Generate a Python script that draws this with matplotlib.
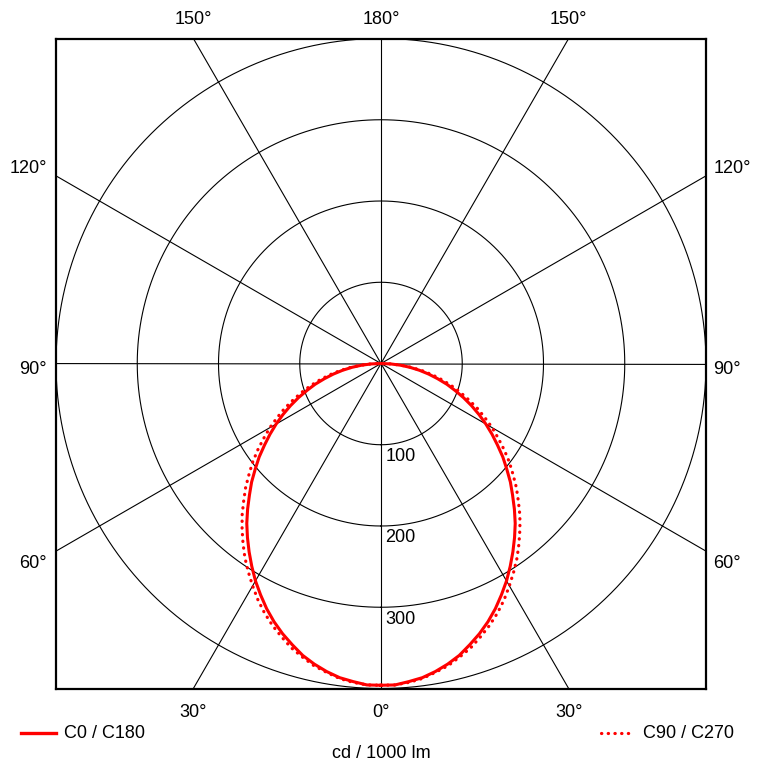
import numpy as np
import matplotlib.pyplot as plt
from matplotlib.lines import Line2D

plt.rcParams['font.family'] = ['Liberation Sans', 'DejaVu Sans']
plt.rcParams['font.size'] = 13

# luminous intensity distribution, cd / 1000 lm, gamma 0..90 deg
gamma = [0, 2.5, 5, 7.5, 10, 12.5, 15, 17.5, 20, 22.5, 25, 27.5, 30, 32.5, 35, 37.5,
         40, 42.5, 45, 47.5, 50, 52.5, 55, 57.5, 60, 62.5, 65, 67.5, 70, 72.5,
         75, 77.5, 80, 82.5, 85, 87.5, 90]
c0_c180 = [396, 396, 393, 390, 385, 379, 372, 363, 354, 344, 333, 321, 309, 296, 283, 270,
           257, 243, 229, 216, 202, 189, 175, 162, 149, 136, 123, 110, 97, 85,
           72, 60, 48, 36, 24, 12, 0]
c90_c270 = [396, 396, 394, 391, 386, 381, 374, 367, 358, 349, 339, 328, 316, 304, 292, 279,
            266, 253, 239, 226, 212, 199, 185, 171, 158, 144, 131, 117, 104, 91,
            78, 65, 52, 39, 26, 13, 0]

rings = [100, 200, 300, 400]
ring_labels = ['100', '200', '300']
spokes = [0, 30, 60, 90, 120, 150]
R = 400

px_w, px_h = 764, 770
fig = plt.figure(figsize=(px_w / 100, px_h / 100), dpi=100)
ax = fig.add_axes([56 / px_w, 81.5 / px_h, 650 / px_w, 650 / px_h])
ax.set_xlim(-R, R)
ax.set_ylim(-R, R)
ax.set_xticks([])
ax.set_yticks([])
for s in ax.spines.values():
    s.set_linewidth(1.6)
    s.set_color('black')


def to_xy(ang_deg, r, side=1):
    a = np.radians(ang_deg)
    r = np.asarray(r, dtype=float)
    return side * r * np.sin(a), -r * np.cos(a)


# grid
t = np.linspace(0, 360, 721)
for rr in rings:
    x, y = to_xy(t, rr)
    ax.plot(x, y, color='black', lw=0.8, zorder=1)
for sp in spokes:
    x, y = to_xy(np.array([sp, sp + 180]), 1000)
    ax.plot(x, y, color='black', lw=0.8, zorder=1)

for rr, lab in zip(rings, ring_labels):
    ax.annotate(lab, (0, -rr), xytext=(3, -8.5), textcoords='offset points',
                ha='left', va='center', fontsize=13)

# curves, mirrored on both half-planes
g = np.array(gamma + gamma[::-1][1:])
side = np.array([1] * len(gamma) + [-1] * (len(gamma) - 1))
v0 = np.array(c0_c180 + c0_c180[::-1][1:])
v90 = np.array(c90_c270 + c90_c270[::-1][1:])
x0, y0 = to_xy(g, v0, side)
x9, y9 = to_xy(g, v90, side)
ax.plot(x9, y9, color='#ff0000', lw=2.3, linestyle=(0, (0.1, 2.0)),
        dash_capstyle='round', zorder=3)
ax.plot(x0, y0, color='#ff0000', lw=2.2, solid_joinstyle='round', zorder=4)

# angle labels
off = np.tan(np.radians(30)) * R
for xx, lab in [(-off, '150°'), (0, '180°'), (off, '150°')]:
    ax.text(xx, 424, lab, ha='center', va='center', clip_on=False)
for xx, lab in [(-off, '30°'), (0, '0°'), (off, '30°')]:
    ax.text(xx, -430, lab, ha='center', va='center', clip_on=False)
for yy, lab in [(240, '120°'), (-8, '90°'), (-246, '60°')]:
    ax.text(-411, yy, lab, ha='right', va='center', clip_on=False)
    ax.text(409, yy, lab, ha='left', va='center', clip_on=False)

# legend
fig.add_artist(Line2D([21 / px_w, 56 / px_w], [1 - 733 / px_h] * 2,
                      color='#ff0000', lw=2.4, transform=fig.transFigure))
fig.text(64 / px_w, 1 - 733 / px_h, 'C0 / C180', ha='left', va='center')
fig.add_artist(Line2D([601 / px_w, 630 / px_w], [1 - 733 / px_h] * 2,
                      color='#ff0000', lw=2.3, linestyle=(0, (0.1, 2.0)),
                      dash_capstyle='round', transform=fig.transFigure))
fig.text(643 / px_w, 1 - 733 / px_h, 'C90 / C270', ha='left', va='center')
fig.text(381 / px_w, 1 - 754 / px_h, 'cd / 1000 lm', ha='center', va='center')

fig.savefig('out.png', dpi=100)
